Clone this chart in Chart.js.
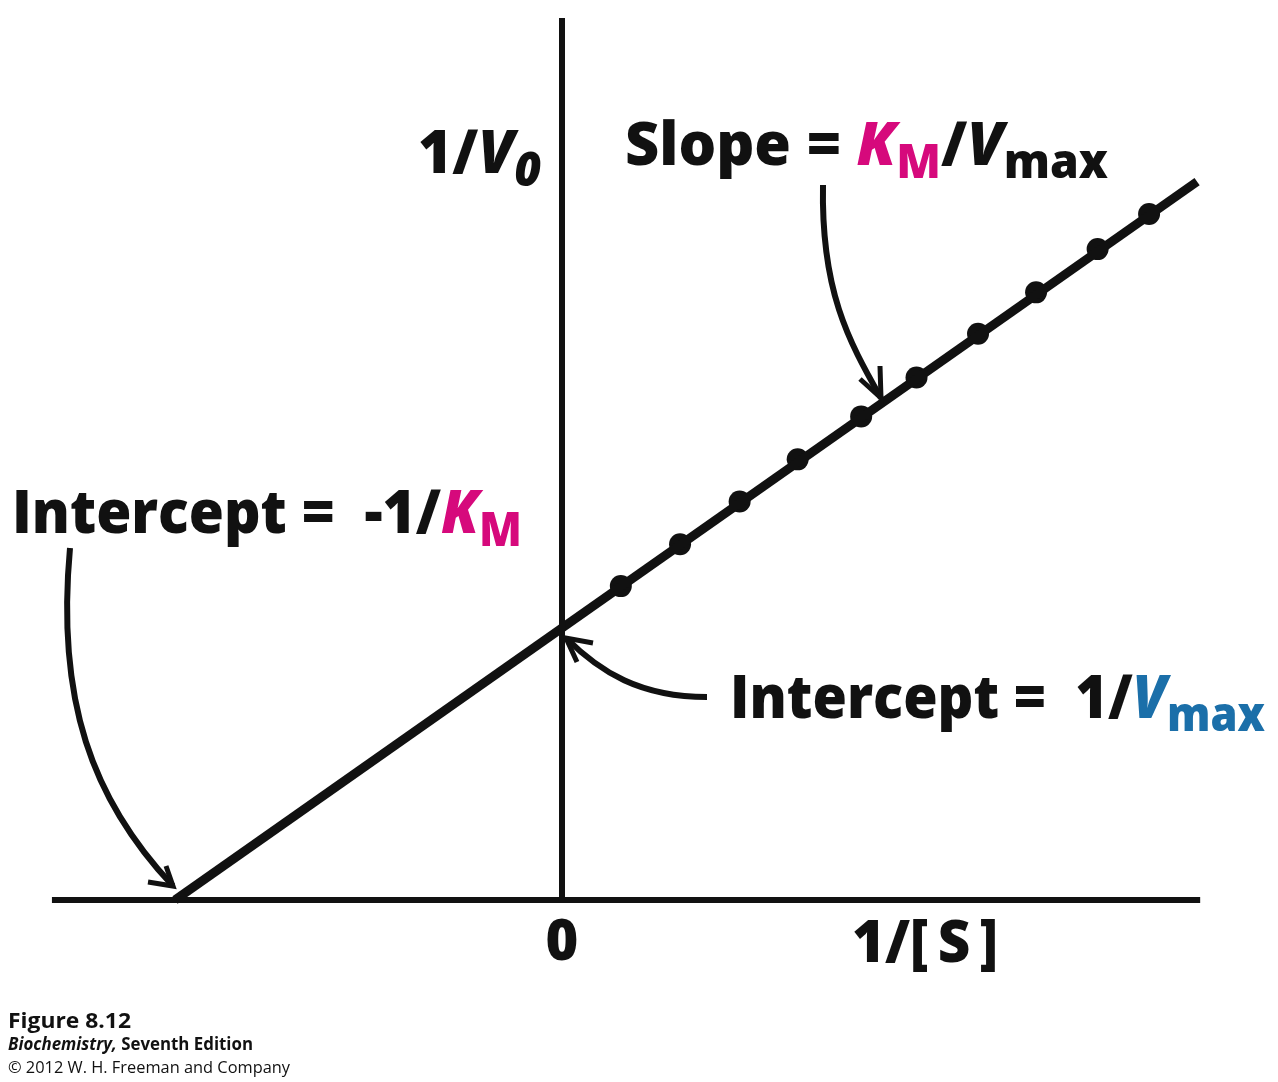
<!DOCTYPE html>
<html>
<head>
<meta charset="utf-8">
<title>Figure 8.12</title>
<script src="https://cdn.jsdelivr.net/npm/chart.js@4.4.1/dist/chart.umd.min.js"></script>
<style>
  html, body { margin: 0; padding: 0; background: #fff; }
  #wrap { width: 1278px; height: 1082px; }
</style>
</head>
<body>
<div id="wrap"><canvas id="lbChart" width="1278" height="1082"></canvas></div>
<script>
// Lineweaver-Burk plot: 1/V0 vs 1/[S]

// measured points (1/[S], 1/V0), units where 1/KM = 1 and 1/Vmax = 1
const invS = [0.152, 0.305, 0.459, 0.609, 0.773, 0.916, 1.075, 1.225, 1.384, 1.517];
const invV = [1.154, 1.308, 1.465, 1.620, 1.778, 1.921, 2.082, 2.234, 2.393, 2.522];

// fitted line, from x intercept (-1/KM) up past the last point
const fitX = [-1.0, 1.641];
const fitY = [0.0, 2.641];

// axis extents
const xAxisEnds = [-1.318, 1.649];
const yAxisEnds = [0, 3.243];

const magenta = '#d6097c';
const blue = '#1b6fa9';
const ink = '#111111';
const FONT = '"Open Sans", "DejaVu Sans", sans-serif';

// draw a line of mixed text squeezed to a given width
function drawRich(ctx, parts, x, y, size, width) {
    let total = 0;
    const fontOf = p => (p.i ? 'italic ' : '') + (p.w || '800') + ' ' + (p.sub ? size * 0.78 : size) + 'px ' + FONT;
    parts.forEach(p => {
        ctx.font = fontOf(p);
        p._w = ctx.measureText(p.t).width;
        total += p._w;
    });
    const f = width ? width / total : 1;
    ctx.save();
    ctx.translate(x, y);
    ctx.scale(f, 1);
    ctx.textBaseline = 'alphabetic';
    ctx.textAlign = 'left';
    let cx = 0;
    parts.forEach(p => {
        ctx.font = fontOf(p);
        ctx.fillStyle = p.c || ink;
        ctx.fillText(p.t, cx, p.sub ? size * 0.22 : 0);
        cx += p._w;
    });
    ctx.restore();
}

function drawArrow(ctx, pts, wing1, wing2) {
    ctx.save();
    ctx.strokeStyle = ink;
    ctx.lineWidth = 6;
    ctx.lineCap = 'butt';
    ctx.beginPath();
    ctx.moveTo(pts[0][0], pts[0][1]);
    ctx.bezierCurveTo(pts[1][0], pts[1][1], pts[2][0], pts[2][1], pts[3][0], pts[3][1]);
    ctx.stroke();
    ctx.lineWidth = 5;
    ctx.beginPath();
    ctx.moveTo(wing1[0], wing1[1]);
    ctx.lineTo(pts[3][0], pts[3][1]);
    ctx.lineTo(wing2[0], wing2[1]);
    ctx.stroke();
    ctx.restore();
}

const labelsPlugin = {
    id: 'labels',
    afterDatasetsDraw(chart) {
        const ctx = chart.ctx;

        // axis titles
        drawRich(ctx, [{t: '1/'}, {t: 'V', i: true}, {t: '0', i: true, sub: true}], 418, 173, 61, 123);
        drawRich(ctx, [{t: '1/[\u2009S\u2009]'}], 852, 962, 58, 146);
        ctx.save();
        ctx.font = '800 56px ' + FONT;
        ctx.fillStyle = ink;
        ctx.textAlign = 'center';
        ctx.fillText('0', chart.scales.x.getPixelForValue(0), 960);
        ctx.restore();

        // annotations
        drawRich(ctx, [
            {t: 'Slope = '}, {t: 'K', i: true, c: magenta}, {t: 'M', sub: true, c: magenta},
            {t: '/'}, {t: 'V', i: true}, {t: 'max', sub: true}
        ], 625, 165, 61, 483);
        drawRich(ctx, [
            {t: 'Intercept =  -1/'}, {t: 'K', i: true, c: magenta}, {t: 'M', sub: true, c: magenta}
        ], 12, 533, 61, 510);
        drawRich(ctx, [
            {t: 'Intercept =  1/'}, {t: 'V', i: true, c: blue}, {t: 'max', sub: true, c: blue}
        ], 730, 718, 61, 535);

        drawArrow(ctx, [[823, 185], [821, 290], [848, 340], [881, 398]], [860, 379], [880, 366]);
        drawArrow(ctx, [[70, 548], [56, 700], [92, 800], [173, 886]], [148, 882], [166, 866]);
        drawArrow(ctx, [[707, 697], [640, 697], [600, 672], [566, 638]], [593, 643], [577, 662]);

        // caption
        drawRich(ctx, [{t: 'Figure 8.12', w: '700'}], 8, 1028, 22, 123);
        drawRich(ctx, [{t: 'Biochemistry,', i: true, w: '700'}, {t: ' Seventh Edition', w: '700'}], 8, 1050, 17, 245);
        drawRich(ctx, [{t: '\u00a9 2012 W. H. Freeman and Company', w: '400'}], 8, 1073, 17, 282);
    }
};

const lineStyle = {showLine: true, borderColor: ink, pointRadius: 0, borderCapStyle: 'butt', fill: false};

new Chart(document.getElementById('lbChart'), {
    type: 'scatter',
    data: {
        datasets: [
            Object.assign({label: 'x axis', borderWidth: 6,
                data: xAxisEnds.map(x => ({x: x, y: 0}))}, lineStyle),
            Object.assign({label: 'y axis', borderWidth: 6,
                data: yAxisEnds.map(y => ({x: 0, y: y}))}, lineStyle),
            Object.assign({label: 'fit', borderWidth: 9,
                data: fitX.map((x, i) => ({x: x, y: fitY[i]}))}, lineStyle),
            {
                label: 'data',
                data: invS.map((x, i) => ({x: x, y: invV[i]})),
                pointRadius: 11,
                pointBackgroundColor: ink,
                pointBorderWidth: 0,
                showLine: false
            }
        ]
    },
    options: {
        responsive: false,
        animation: false,
        layout: {padding: 0, autoPadding: false},
        plugins: {legend: {display: false}, tooltip: {enabled: false}},
        scales: {
            x: {type: 'linear', display: false, min: -1.4522, max: 1.8501},
            y: {type: 'linear', display: false, min: -0.6691, max: 3.3088}
        }
    },
    plugins: [labelsPlugin]
});
</script>
</body>
</html>
